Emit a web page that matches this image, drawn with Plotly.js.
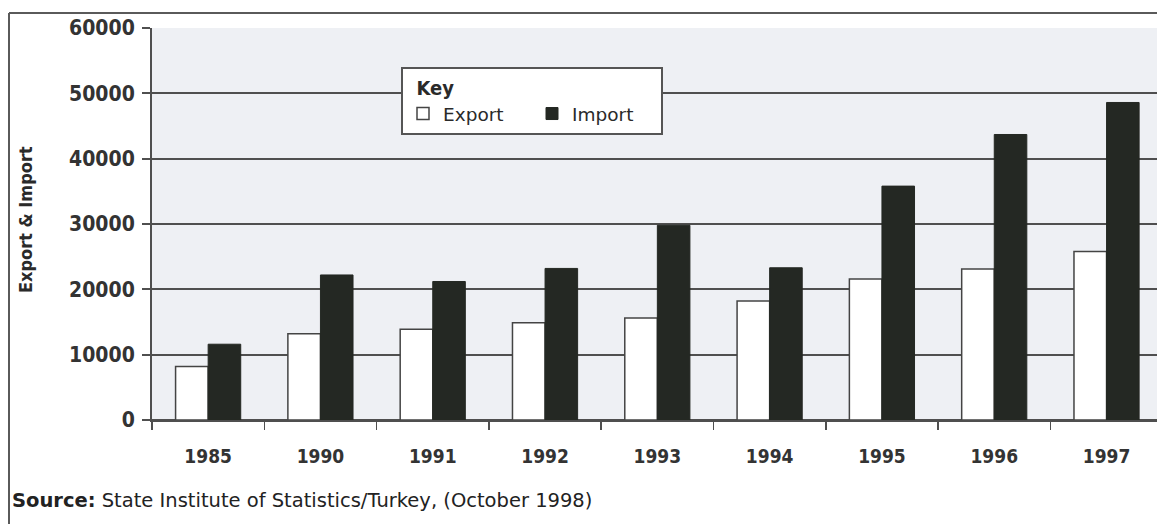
<!DOCTYPE html>
<html>
<head>
<meta charset="utf-8">
<script src="https://cdn.plot.ly/plotly-3.0.1.min.js"></script>
<style>
  html, body { margin: 0; padding: 0; background: #ffffff; }
  #chart { width: 1157px; height: 524px; }
</style>
</head>
<body>
<div id="chart"></div>
<script>
// ---- data ----
const years = ['1985', '1990', '1991', '1992', '1993', '1994', '1995', '1996', '1997'];
const exportValues = [8200, 13200, 13900, 14900, 15600, 18200, 21600, 23100, 25800];
const importValues = [11600, 22200, 21200, 23200, 29800, 23300, 35800, 43700, 48600];
const yTickValues = [0, 10000, 20000, 30000, 40000, 50000, 60000];
const yAxisLabel = 'Export &amp; Import';
const legendTitle = 'Key';
const seriesNames = ['Export', 'Import'];
const sourceNote = '<b>Source:</b> State Institute of Statistics/Turkey, (October 1998)';

// ---- layout geometry (pixels) ----
const W = 1157, H = 524;
const M = { l: 152, r: 0, t: 28, b: 104 };
const plotW = W - M.l - M.r, plotH = H - M.t - M.b;
const px2x = px => (px - M.l) / plotW;
const py2y = py => (H - M.b - py) / plotH;

const gridCol = '#4f4f4f';
const darkBar = '#242823';

const traces = [
  {
    type: 'bar', name: seriesNames[0], x: years, y: exportValues,
    marker: { color: '#ffffff', line: { color: '#444444', width: 1.5 } }
  },
  {
    type: 'bar', name: seriesNames[1], x: years, y: importValues,
    marker: { color: darkBar, line: { color: darkBar, width: 1 } }
  }
];

const layout = {
  width: W, height: H,
  margin: M,
  paper_bgcolor: '#ffffff',
  plot_bgcolor: '#eef0f4',
  barmode: 'group',
  bargap: 0.42,
  bargroupgap: 0,
  showlegend: true,
  font: { family: 'DejaVu Sans Condensed, DejaVu Sans, sans-serif', color: '#2a2a2a' },
  xaxis: {
    type: 'category',
    range: [-0.5, -0.5 + plotW / 112.3],
    showgrid: false,
    showline: true, linecolor: gridCol, linewidth: 2,
    ticks: 'outside', tickson: 'boundaries', ticklen: 8, tickwidth: 1.5, tickcolor: gridCol,
    ticklabelstandoff: 18,
    tickfont: { family: 'DejaVu Sans Condensed', size: 19, weight: 'bold', color: '#333333' },
    fixedrange: true
  },
  yaxis: {
    range: [0, 60000],
    tickvals: yTickValues,
    tickformat: 'd',
    showgrid: true, gridcolor: gridCol, gridwidth: 2,
    zeroline: true, zerolinecolor: gridCol, zerolinewidth: 2,
    showline: true, linecolor: gridCol, linewidth: 2,
    ticks: 'outside', ticklen: 8, tickwidth: 2, tickcolor: gridCol,
    ticklabelstandoff: 3,
    tickfont: { family: 'DejaVu Sans Condensed', size: 21, weight: 'bold', color: '#333333' },
    fixedrange: true
  },
  legend: {
    orientation: 'h',
    x: px2x(401), y: py2y(67), xanchor: 'left', yanchor: 'top',
    bgcolor: '#ffffff', bordercolor: '#555555', borderwidth: 2,
    title: { text: '&nbsp;&nbsp;<b>' + legendTitle + '</b>', side: 'top', font: { size: 20, family: 'DejaVu Sans Condensed', color: '#2a2a2a' } },
    font: { size: 18.5, family: 'DejaVu Sans', color: '#2a2a2a' },
    entrywidth: 84,
    traceorder: 'normal',
    itemclick: false, itemdoubleclick: false
  },
  annotations: [
    {
      text: '<b>' + yAxisLabel + '</b>',
      xref: 'paper', yref: 'paper', x: px2x(25), y: py2y(220),
      xanchor: 'center', yanchor: 'middle', textangle: -90, showarrow: false,
      font: { family: 'DejaVu Sans Condensed', size: 18, color: '#2a2a2a' }
    },
    {
      text: sourceNote,
      xref: 'paper', yref: 'paper', x: px2x(10), y: py2y(500),
      xanchor: 'left', yanchor: 'middle', showarrow: false,
      font: { family: 'DejaVu Sans', size: 19.5, color: '#222222' }
    }
  ],
  shapes: [
    { type: 'line', xref: 'paper', yref: 'paper', x0: px2x(9), x1: px2x(W + 10), y0: py2y(13), y1: py2y(13),
      line: { color: '#5a5a5a', width: 2 } },
    { type: 'line', xref: 'paper', yref: 'paper', x0: px2x(9), x1: px2x(9), y0: py2y(13), y1: py2y(H + 10),
      line: { color: '#5a5a5a', width: 2 } }
  ]
};

Plotly.newPlot('chart', traces, layout, { displayModeBar: false, staticPlot: true });
</script>
</body>
</html>
